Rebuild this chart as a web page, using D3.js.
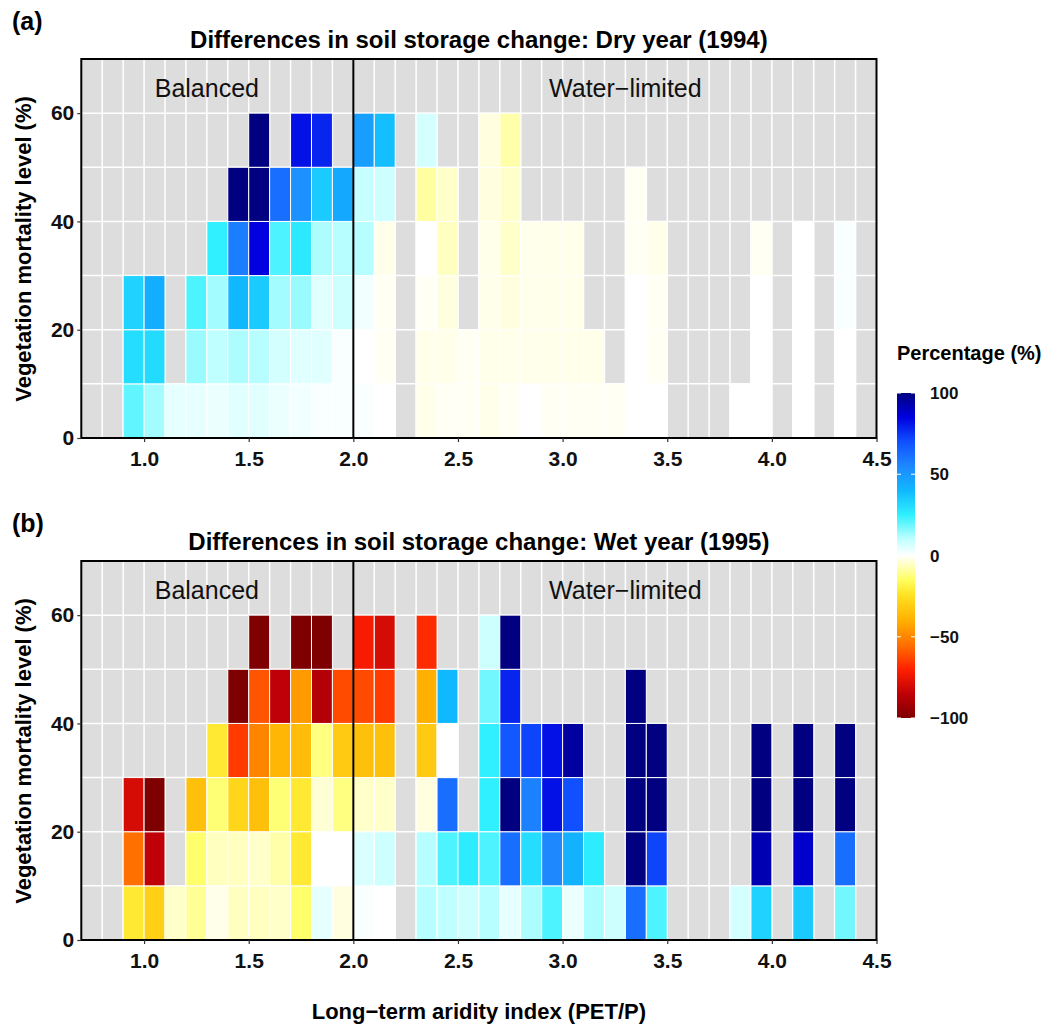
<!DOCTYPE html>
<html>
<head>
<meta charset="utf-8">
<script src="https://cdn.jsdelivr.net/npm/d3@7"></script>
<style>
  body { margin: 0; background: #fff; }
  text { font-family: "Liberation Sans", Arial, sans-serif; }
</style>
</head>
<body>
<div id="chart"></div>
<script>
var _ = null;

// left edge of each aridity-index bin (width 0.1)
var aridity = d3.range(36).map(function(i) { return +(0.9 + i * 0.1).toFixed(1); });
// lower edge of each mortality bin (width 10 %)
var mortality = [0, 10, 20, 30, 40, 50];

// panel (a): dry year 1994, one row per mortality bin, one entry per aridity bin
var dryRows = [
  [20,13,4,4,3,5,5,3,2,1,1, 1,0,_,-2,-1,-1,-2,-1,0,-1,-1,-1,-1,0,0,_,_,_,0,0,_,0,_,0,_],
  [30,31,_,14,10,12,11,7,5,5,1, 0,-1,_,-2,-2,-1,-2,-2,-2,-2,-2,-2,_,0,-1,_,_,_,_,0,_,0,_,0,_],
  [33,43,_,22,13,40,35,13,14,5,8, 2,-1,_,-1,-3,_,-2,-3,-2,-2,-2,_,_,0,-1,_,_,_,_,0,_,0,_,1,_],
  [_,_,_,_,25,58,85,22,27,12,11, 11,-2,_,0,-6,_,-2,-5,-2,-2,-2,_,_,-1,-2,_,_,_,_,-1,_,0,_,1,_],
  [_,_,_,_,_,100,100,62,52,35,45, 9,8,_,-9,-5,_,-3,-5,_,_,_,_,_,-1,_,_,_,_,_,_,_,_,_,_,_],
  [_,_,_,_,_,_,100,_,82,78,_, 48,38,_,7,_,_,-3,-8,_,_,_,_,_,_,_,_,_,_,_,_,_,_,_,_,_]
];

// panel (b): wet year 1995
var wetRows = [
  [-22,-30,-5,-10,-2,-6,-6,-5,-14,4,-3, 1,0,_,11,10,8,11,4,12,22,3,12,8,62,22,_,_,_,7,33,_,35,_,18,_],
  [-55,-85,_,-14,-6,-6,-5,-8,-22,0,0, 6,8,_,11,22,26,22,62,30,55,42,26,_,100,72,_,_,_,_,92,_,88,_,62,_],
  [-80,-100,_,-35,-13,-28,-35,-13,-22,-4,-12, -5,-5,_,-3,62,_,25,100,57,82,70,_,_,100,100,_,_,_,_,100,_,100,_,100,_],
  [_,_,_,_,-22,-65,-50,-38,-36,-12,-32, -35,-35,_,-32,0,_,25,68,72,82,95,_,_,100,100,_,_,_,_,100,_,100,_,100,_],
  [_,_,_,_,_,-100,-60,-85,-45,-88,-62, -62,-65,_,-40,40,_,18,78,_,_,_,_,_,100,_,_,_,_,_,_,_,_,_,_,_],
  [_,_,_,_,_,_,-100,_,-100,-100,_, -72,-80,_,-68,_,_,8,100,_,_,_,_,_,_,_,_,_,_,_,_,_,_,_,_,_]
];

var xTicks = [1.0, 1.5, 2.0, 2.5, 3.0, 3.5, 4.0, 4.5];
var yTicks = [0, 20, 40, 60];
var legendTicks = [-100, -50, 0, 50, 100];

var colorStops = [-100, -85, -70, -55, -40, -25, -15, 0, 10, 25, 40, 55, 70, 85, 100];
var colorRange = ["#7f0000", "#c00008", "#ff2000", "#ff7000", "#ffb000", "#ffe020", "#ffff60", "#ffffff",
                  "#c0ffff", "#30f0ff", "#10b8ff", "#1e88ff", "#1050ff", "#0000e0", "#000080"];

var width = 1050;
var height = 1026;

var color = d3.scaleLinear().domain(colorStops).range(colorRange).clamp(true);

var x = d3.scaleLinear().domain([0.7, 4.5]).range([81.3, 876.5]);

var svg = d3.select("#chart")
    .append("svg")
    .attr("width", width)
    .attr("height", height);

svg.append("rect").attr("width", width).attr("height", height).attr("fill", "#fff");

function toCells(rows) {
  var cells = [];
  rows.forEach(function(row, j) {
    row.forEach(function(v, i) {
      if (v !== null) cells.push({ x0: aridity[i], y0: mortality[j], value: v });
    });
  });
  return cells;
}

function drawPanel(rows, top, tag, title) {
  var y = d3.scaleLinear().domain([0, 70]).range([top + 379, top]);
  var g = svg.append("g");

  g.append("rect")
      .attr("x", x(0.7)).attr("y", y(70))
      .attr("width", x(4.5) - x(0.7)).attr("height", y(0) - y(70))
      .attr("fill", "#dddddd");

  // white grid: one line per bin edge
  g.selectAll(".vgrid")
    .data(d3.range(0.8, 4.45, 0.1))
    .enter().append("line")
      .attr("x1", function(d) { return x(d); }).attr("x2", function(d) { return x(d); })
      .attr("y1", y(70)).attr("y2", y(0))
      .attr("stroke", "#fff").attr("stroke-width", 1.5);

  g.selectAll(".hgrid")
    .data([10, 20, 30, 40, 50, 60])
    .enter().append("line")
      .attr("x1", x(0.7)).attr("x2", x(4.5))
      .attr("y1", function(d) { return y(d); }).attr("y2", function(d) { return y(d); })
      .attr("stroke", "#fff").attr("stroke-width", 1.5);

  g.selectAll(".cell")
    .data(toCells(rows))
    .enter().append("rect")
      .attr("x", function(d) { return x(d.x0); })
      .attr("y", function(d) { return y(d.y0 + 10); })
      .attr("width", function(d) { return x(d.x0 + 0.1) - x(d.x0); })
      .attr("height", function(d) { return y(d.y0) - y(d.y0 + 10); })
      .attr("fill", function(d) { return color(d.value); })
      .attr("stroke", "#fff")
      .attr("stroke-width", 1);

  // boundary between balanced and water-limited
  g.append("line")
      .attr("x1", x(2.0)).attr("x2", x(2.0))
      .attr("y1", y(70)).attr("y2", y(0))
      .attr("stroke", "#000").attr("stroke-width", 2);

  g.append("rect")
      .attr("x", x(0.7)).attr("y", y(70))
      .attr("width", x(4.5) - x(0.7)).attr("height", y(0) - y(70))
      .attr("fill", "none").attr("stroke", "#000").attr("stroke-width", 2);

  g.append("text").attr("x", x(1.3)).attr("y", top + 38)
      .attr("text-anchor", "middle").attr("font-size", 25).attr("fill", "#111")
      .text("Balanced");
  g.append("text").attr("x", x(3.3)).attr("y", top + 38)
      .attr("text-anchor", "middle").attr("font-size", 25).attr("fill", "#111")
      .text("Water\u2212limited");

  var xAxis = g.append("g")
      .attr("transform", "translate(0," + y(0) + ")")
      .call(d3.axisBottom(x).tickValues(xTicks).tickFormat(d3.format(".1f")).tickSize(4).tickPadding(9));
  var yAxis = g.append("g")
      .attr("transform", "translate(" + x(0.7) + ",0)")
      .call(d3.axisLeft(y).tickValues(yTicks).tickSize(4).tickPadding(3));

  [xAxis, yAxis].forEach(function(a) {
    a.select(".domain").remove();
    a.selectAll(".tick line").attr("stroke", "#333").attr("stroke-width", 1.2);
    a.selectAll(".tick text")
        .attr("font-family", "Liberation Sans, Arial, sans-serif")
        .attr("font-size", 21).attr("font-weight", "bold").attr("fill", "#111");
  });

  g.append("text")
      .attr("transform", "translate(31," + (top + 190) + ") rotate(-90)")
      .attr("text-anchor", "middle").attr("font-size", 22).attr("font-weight", "bold")
      .text("Vegetation mortality level (%)");

  g.append("text").attr("x", (x(0.7) + x(4.5)) / 2).attr("y", top - 11)
      .attr("text-anchor", "middle").attr("font-size", 24).attr("font-weight", "bold")
      .text(title);

  g.append("text").attr("x", 12).attr("y", top - 29)
      .attr("font-size", 25).attr("font-weight", "bold")
      .text(tag);
}

drawPanel(dryRows, 59, "(a)", "Differences in soil storage change: Dry year (1994)");
drawPanel(wetRows, 561, "(b)", "Differences in soil storage change: Wet year (1995)");

svg.append("text")
    .attr("x", (x(0.7) + x(4.5)) / 2).attr("y", 1019)
    .attr("text-anchor", "middle").attr("font-size", 22).attr("font-weight", "bold")
    .text("Long\u2212term aridity index (PET/P)");

// colour bar legend
var legendScale = d3.scaleLinear().domain([-100, 100]).range([718, 393]);
var barX = 897, barW = 18;

var grad = svg.append("defs").append("linearGradient")
    .attr("id", "bar").attr("x1", 0).attr("x2", 0).attr("y1", 1).attr("y2", 0);
grad.selectAll("stop")
  .data(d3.range(-100, 101, 5))
  .enter().append("stop")
    .attr("offset", function(d) { return (d + 100) / 200; })
    .attr("stop-color", function(d) { return color(d); });

svg.append("rect")
    .attr("x", barX).attr("y", legendScale(100))
    .attr("width", barW).attr("height", legendScale(-100) - legendScale(100))
    .attr("fill", "url(#bar)");

svg.selectAll(".ltick")
  .data(legendTicks)
  .enter().append("g")
  .each(function(d) {
    var t = d3.select(this);
    t.append("line").attr("x1", barX).attr("x2", barX + 4)
        .attr("y1", legendScale(d)).attr("y2", legendScale(d))
        .attr("stroke", "#fff").attr("stroke-width", 1);
    t.append("line").attr("x1", barX + barW - 4).attr("x2", barX + barW)
        .attr("y1", legendScale(d)).attr("y2", legendScale(d))
        .attr("stroke", "#fff").attr("stroke-width", 1);
    t.append("text").attr("x", 930).attr("y", legendScale(d) + 6)
        .attr("font-size", 17).attr("font-weight", "bold").attr("fill", "#111")
        .text(d3.format("d")(d));
  });

svg.append("text").attr("x", 897).attr("y", 360)
    .attr("font-size", 20).attr("font-weight", "bold")
    .text("Percentage (%)");
</script>
</body>
</html>
